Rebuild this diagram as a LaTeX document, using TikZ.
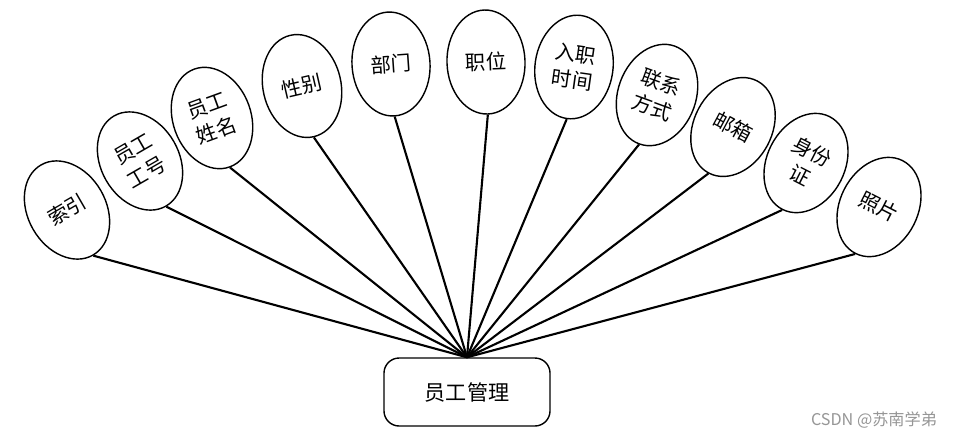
\documentclass[tikz,border=0pt]{standalone}
\usepackage{fontspec}
\usepackage{tikz}
\usetikzlibrary{shapes.geometric}
\newfontfamily\cjk{Noto Sans CJK SC}
\definecolor{marcagris}{RGB}{150,150,150}

\begin{document}
\begin{tikzpicture}[x=0.025cm, y=-0.025cm,
  atributo/.style={draw, ellipse, line width=1pt, minimum width=1.95cm,
                   minimum height=2.6cm, inner sep=0pt, align=center,
                   font=\cjk\fontsize{14.5}{19}\selectfont},
  entidad/.style={draw, rounded corners=0.38cm, line width=1pt,
                  minimum width=4.15cm, minimum height=1.7cm,
                  font=\cjk\fontsize{15}{18}\selectfont},
  enlace/.style={line width=1.5pt}]
  \path[fill=white] (0,0) rectangle (957,437);
  % Entidad
  \node[entidad] (emp) at (467,392) {员工管理};
  % Atributos
  \foreach \x/\y/\ang/\txt [count=\i] in {67/210/30/索引,
      140/161/30/员工\\工号, 212/118/20/员工\\姓名, 302/86/13/性别,
      391/64/4/部门, 486/62/2/职位, 574/67/-8/入职\\时间,
      657/95/-20/联系\\方式, 733/127/-28/邮箱, 806/163/-27/身份\\证,
      879/207/-27/照片}{
    \node[atributo, rotate=\ang] (a\i) at (\x,\y) {\txt};
    \draw[enlace] (a\i.south) -- (emp.north);
  }
  % Marca
  \node[font=\cjk\fontsize{11.5}{13}\selectfont, text=marcagris]
       (marca) at (874,420) {CSDN @苏南学弟};
\end{tikzpicture}
\end{document}
